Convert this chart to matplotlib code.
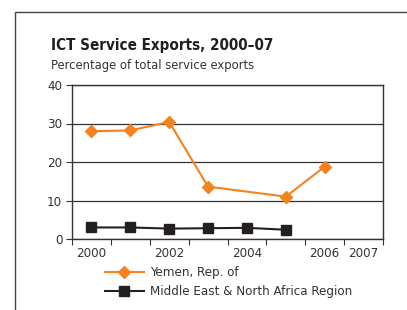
import matplotlib.pyplot as plt
from matplotlib import font_manager
from matplotlib.patches import Rectangle
import numpy as np

years = ['2000', '2001', '2002', '2003', '2004', '2005', '2006', '2007']
year_labels = ['2000', '', '2002', '', '2004', '', '2006', '2007']
yemen = [28.0, 28.2, 30.4, 13.6, np.nan, 11.0, 18.8, np.nan]
mena = [3.0, 3.0, 2.7, 2.8, 2.9, 2.4, np.nan, np.nan]

orange = '#F5821F'
dark = '#231F20'

# prefer a narrow face if there is one
cond = [f for f in font_manager.fontManager.ttflist
        if f.stretch in ('condensed', 'semi-condensed', 'extra-condensed')
        or 'Narrow' in f.name or 'Condensed' in f.name]
if cond:
    plt.rcParams['font.family'] = [cond[0].name, 'DejaVu Sans']
    plt.rcParams['font.stretch'] = 'condensed'
    scale = 1.0
else:
    plt.rcParams['font.family'] = ['Liberation Sans', 'DejaVu Sans']
    scale = 0.9

fig = plt.figure(figsize=(4.07, 3.10), dpi=100)
fig.patch.set_facecolor('white')

# outer frame, runs off the right and bottom edges
fig.patches.append(Rectangle((15 / 407, -0.1), 1.0, 1 - 12 / 310 + 0.1,
                             transform=fig.transFigure, fill=False,
                             edgecolor='#444444', linewidth=1.0))

fig.text(51 / 407, 1 - 50 / 310, 'ICT Service Exports, 2000\u201307',
         fontsize=10.9 * scale, fontweight='bold', color=dark, va='baseline')
fig.text(51 / 407, 1 - 69 / 310, 'Percentage of total service exports',
         fontsize=9.3 * scale, color='#333333', va='baseline')

ax = fig.add_axes([72 / 407, 1 - 239 / 310, 311 / 407, 154 / 310])

x = np.arange(len(years)) + 0.5
yv = np.array(yemen)
ok = ~np.isnan(yv)
ax.plot(x[ok], yv[ok], color=orange, lw=1.5, marker='D', ms=6.5,
        label='Yemen, Rep. of', zorder=3)
mv = np.array(mena)
ok = ~np.isnan(mv)
ax.plot(x[ok], mv[ok], color=dark, lw=1.5, marker='s', ms=6.5,
        label='Middle East & North Africa Region', zorder=3)

ax.set_xlim(0, len(years))
ax.set_ylim(0, 40)
ax.set_yticks([0, 10, 20, 30, 40])
ax.yaxis.grid(True, color='#333333', lw=0.9)
ax.set_axisbelow(True)

ax.set_xticks(np.arange(len(years) + 1))
ax.set_xticklabels([])
ax.set_xticks(x, minor=True)
ax.set_xticklabels(year_labels, minor=True)
ax.tick_params(axis='x', which='major', length=4, direction='out',
               color='#333333')
ax.tick_params(axis='x', which='minor', length=0, pad=6,
               labelsize=9.5 * scale, labelcolor='#333333')
ax.tick_params(axis='y', length=4, direction='out', color='#333333',
               labelsize=9.5 * scale, labelcolor='#333333', pad=3)
for s in ax.spines.values():
    s.set_color('#333333')
    s.set_linewidth(1.0)

fig.legend(loc='upper left', bbox_to_anchor=(100 / 407, 1 - 261 / 310),
           frameon=False, fontsize=9.5 * scale, handlelength=2.9,
           handletextpad=0.5, labelspacing=0.45, borderaxespad=0,
           labelcolor='#333333')

fig.savefig('out.png', dpi=100)
